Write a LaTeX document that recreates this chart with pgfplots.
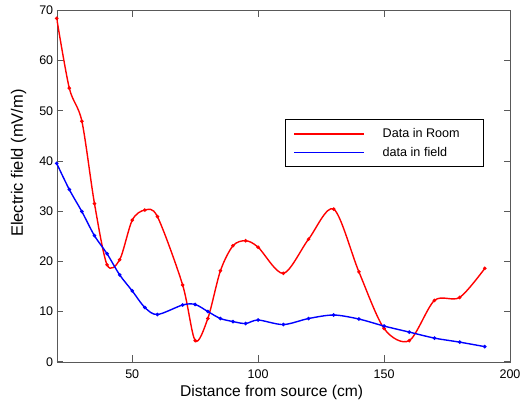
\documentclass[border=0pt]{standalone}
\usepackage{pgfplots}
\pgfplotsset{compat=1.18}
\usepackage{fontspec}
\setmainfont{Liberation Sans}
\begin{document}
\begin{tikzpicture}
\begin{axis}[name=ax, scale only axis, width=453.3pt, height=351.4pt,
  xmin=20, xmax=200, ymin=0, ymax=70,
  xtick={50,100,150,200}, ytick={0,10,...,70},
  tick align=inside, major tick length=6.5pt,
  axis line style={black!65}, every tick/.style={black!65, line width=0.6pt},
  ticklabel style={font=\fontsize{12.5}{14}\selectfont},
  xticklabel style={yshift=-5pt},
  /pgf/number format/assume math mode=true,
  xlabel={Distance from source (cm)}, ylabel={Electric field (mV/m)},
  xlabel style={font=\fontsize{15.6}{17}\selectfont, at={(ticklabel cs:0.474)}, yshift=1pt},
  ylabel style={font=\fontsize{16.5}{18}\selectfont, at={(ticklabel cs:0.565,6pt)}},
  legend style={at={(rel axis cs:0.5036,0.69)}, anchor=north west, draw=black, line width=0.6pt,
    font=\fontsize{12.6}{14}\selectfont, inner xsep=8.5pt, inner ysep=7pt, row sep=4pt},
  legend cell align=left,
  legend image code/.code={\draw[#1, mark=none, line width=1.4pt] (0pt,0pt) -- (70pt,0pt);},
]
\addplot[red, line width=1.4pt, smooth, mark=*, mark size=1pt] coordinates {
(20,68.4) (25,54.5) (30,47.9) (35,31.5) (40,19.3) (45,20.3) (50,28.2) (55,30.2) (60,28.9)
(70,15.3) (75,4.2) (80,8.6) (85,18.1) (90,23.1) (95,24.1) (100,22.8) (110,17.6) (120,24.4)
(130,30.4) (140,17.9) (150,6.6) (160,4.2) (170,12.2) (180,12.8) (190,18.6)};
\addlegendentry{\makebox[106pt][l]{\hspace{15.5pt}Data in Room}}
\addplot[blue, line width=1.4pt, smooth, mark=*, mark size=1pt] coordinates {
(20,39.5) (25,34.3) (30,29.9) (35,25.1) (40,21.5) (45,17.3) (50,14.1) (55,10.8) (60,9.4)
(70,11.3) (75,11.4) (80,10.0) (85,8.6) (90,8.0) (95,7.6) (100,8.3) (110,7.4) (120,8.6)
(130,9.3) (140,8.5) (150,7.1) (160,5.9) (170,4.7) (180,3.9) (190,3.0)};
\addlegendentry{\makebox[106pt][l]{\hspace{15.5pt}data in field}}
\end{axis}
\pgfresetboundingbox
\path ([xshift=-56.7pt,yshift=-40.3pt]ax.south west) rectangle ([xshift=11pt,yshift=10.3pt]ax.north east);
\end{tikzpicture}
\end{document}
